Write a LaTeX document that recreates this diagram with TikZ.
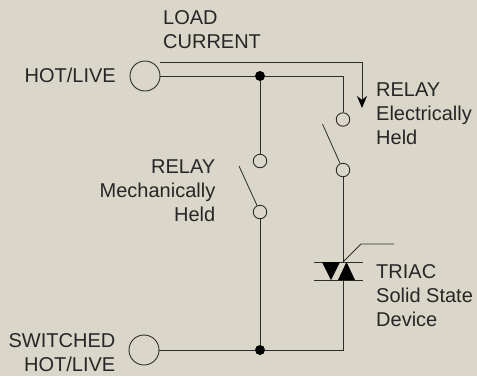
\documentclass[tikz,border=0pt]{standalone}
\usepackage{fontspec}
\setmainfont{Liberation Sans}
\definecolor{panel}{HTML}{DAD6C9}
\definecolor{wire}{HTML}{2E2D29}
\usetikzlibrary{arrows.meta}
\tikzset{
	wireline/.style={draw=wire, line width=1pt},
	terminal/.style={circle, draw=wire, line width=0.9pt, minimum size=30pt, inner sep=0pt},
	contact/.style={circle, draw=wire, line width=0.9pt, minimum size=13.5pt, inner sep=0pt},
	junction/.style={circle, fill=black, minimum size=10pt, inner sep=0pt},
	caption/.style={inner sep=0pt, text=black!85, font=\fontsize{20}{24}\selectfont}
}
\begin{document}
\begin{tikzpicture}[x=1pt, y=-1pt]
	\useasboundingbox[fill=panel] (0, 0) rectangle (477, 376);

	\node[terminal] (hot) at (145, 76) {};
	\node[terminal] (switched) at (144, 350) {};
	\node[junction] (topdot) at (260, 76) {};
	\node[junction] (botdot) at (260, 350) {};

	\node[contact] (mechtop) at (260, 161) {};
	\node[contact] (mechbot) at (260, 212) {};
	\node[contact] (electop) at (343, 119.5) {};
	\node[contact] (elecbot) at (343, 170) {};

	\coordinate (topturn) at (343, 76);
	\coordinate (botturn) at (343, 350);
	\coordinate (triactop) at (343, 262);
	\coordinate (triacbot) at (343, 280);

	% supply wires
	\draw[wireline] (hot) -- (topdot) -- (topturn) -- (electop);
	\draw[wireline] (topdot) -- (mechtop);
	\draw[wireline] (mechbot) -- (botdot);
	\draw[wireline] (switched) -- (botdot) -- (botturn) -- (triacbot);
	\draw[wireline] (elecbot) -- (triactop);

	% switch blades
	\coordinate (mechblade) at (239, 166);
	\coordinate (elecblade) at (322.5, 124);
	\draw[wire, line width=0.8pt] (mechblade) -- (mechbot);
	\draw[wire, line width=0.8pt] (elecblade) -- (elecbot);

	% load current arrow
	\coordinate (loadstart) at (160, 62.5);
	\coordinate (loadturn) at (362, 62.5);
	\coordinate (loadend) at (362, 108);
	\draw[wireline, -{Stealth[length=12pt, width=10pt, color=black]}] (loadstart) -- (loadturn) -- (loadend);

	% triac
	\coordinate (barleft) at (314, 262);
	\coordinate (barright) at (363, 262);
	\coordinate (baseleft) at (314, 280);
	\coordinate (baseright) at (363, 280);
	\draw[wireline] (barleft) -- (barright);
	\draw[wireline] (baseleft) -- (baseright);
	\fill[black] (322, 262) -- (340, 262) -- (331, 280) -- cycle;
	\fill[black] (338, 280) -- (355, 280) -- (346.5, 262) -- cycle;
	\coordinate (gatebend) at (361, 244);
	\coordinate (gateend) at (394, 244);
	\draw[wire, line width=0.8pt] (triactop) -- (gatebend) -- (gateend);

	% labels
	\node[caption, align=left, anchor=north west] (loadlabel) at (163, 10.5) {LOAD\\CURRENT};
	\node[caption, anchor=east] (hotlabel) at (116, 75) {HOT/LIVE};
	\node[caption, align=right, anchor=east] (switchedlabel) at (115.5, 353) {SWITCHED\\HOT/LIVE};
	\node[caption, align=right, anchor=east] (mechlabel) at (215.5, 191) {RELAY\\Mechanically\\Held};
	\node[caption, align=left, anchor=west] (eleclabel) at (376, 114) {RELAY\\Electrically\\Held};
	\node[caption, align=left, anchor=west] (triaclabel) at (376, 296) {TRIAC\\Solid State\\Device};
\end{tikzpicture}
\end{document}
